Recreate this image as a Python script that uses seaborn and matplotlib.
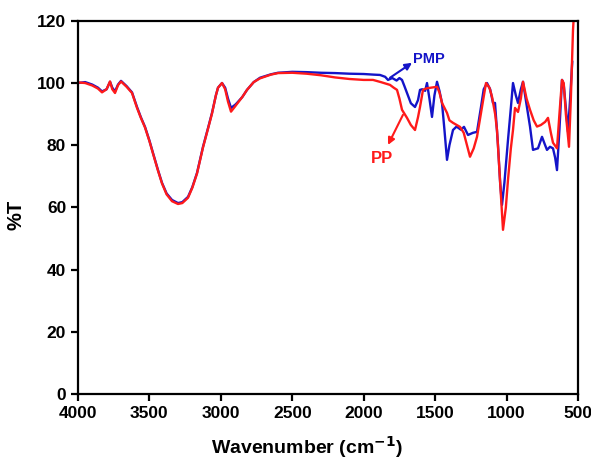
import matplotlib
matplotlib.use('Agg')
import matplotlib.pyplot as plt
import numpy as np
import pandas as pd
import seaborn as sns

# PMP spectrum (wavenumber, %T)
pmp_wn = [4000, 3950, 3900, 3860, 3832, 3800, 3776, 3760, 3741, 3720, 3699, 3660, 3622,
          3587, 3560, 3531, 3500, 3475, 3440, 3412, 3380, 3342, 3300, 3270, 3230, 3200,
          3167, 3125, 3090, 3062, 3035, 3020, 2992, 2970, 2950, 2929, 2900, 2887, 2850,
          2817, 2770, 2726, 2650, 2600, 2500, 2400, 2300, 2200, 2100, 2000, 1930, 1886,
          1850, 1830, 1800, 1770, 1750, 1732, 1715, 1697, 1670, 1641, 1620, 1606, 1590,
          1570, 1557, 1540, 1522, 1505, 1487, 1470, 1452, 1435, 1417, 1400, 1375, 1350,
          1320, 1298, 1270, 1235, 1207, 1180, 1160, 1137, 1115, 1095, 1081, 1060, 1045,
          1032, 1015, 990, 970, 955, 935, 920, 900, 885, 860, 836, 815, 795, 780, 752,
          730, 717, 696, 675, 660, 647, 630, 612, 600, 585, 570, 555, 540]
pmp_t = [100.0, 100.3, 99.5, 98.5, 97.3, 98.0, 100.4, 98.5, 97.3, 99.5, 100.7, 99.0, 97.0,
         92.3, 89.0, 85.9, 81.5, 77.5, 72.0, 67.9, 64.5, 62.4, 61.4, 61.7, 63.4, 66.5,
         71.1, 79.5, 85.5, 90.4, 96.0, 98.5, 100.0, 98.5, 95.0, 92.0, 93.0, 93.6, 95.5,
         97.8, 100.3, 101.7, 102.8, 103.3, 103.6, 103.5, 103.3, 103.2, 103.0, 102.9, 102.7, 102.6,
         102.0, 101.0, 101.6, 100.8, 101.6, 101.0, 99.0, 96.8, 93.5, 92.3, 94.5, 97.8, 98.0,
         97.5, 100.0, 95.0, 89.1, 96.0, 100.4, 97.5, 93.6, 85.0, 75.3, 80.0, 84.9, 86.0,
         85.0, 85.9, 83.3, 84.0, 84.3, 92.0, 98.0, 100.0, 98.0, 93.6, 93.6, 80.0, 68.0,
         60.8, 68.0, 81.7, 92.0, 100.0, 96.0, 93.6, 98.0, 100.4, 93.0, 86.0, 78.5, 78.8, 79.0, 82.7,
         80.0, 78.5, 79.5, 79.0, 76.0, 72.0, 85.0, 101.0, 99.5, 92.0, 84.3, 95.0, 107.0]

# PP spectrum (wavenumber, %T)
pp_wn = [4000, 3950, 3900, 3860, 3832, 3800, 3776, 3760, 3741, 3720, 3699, 3660, 3622,
         3587, 3560, 3531, 3500, 3475, 3440, 3412, 3380, 3342, 3300, 3270, 3230, 3200,
         3167, 3125, 3090, 3062, 3035, 3020, 2992, 2970, 2950, 2929, 2900, 2887, 2850,
         2817, 2770, 2726, 2650, 2600, 2500, 2400, 2300, 2200, 2100, 2000, 1935, 1880,
         1816, 1790, 1767, 1750, 1732, 1697, 1670, 1641, 1620, 1606, 1585, 1560, 1530,
         1487, 1470, 1452, 1417, 1400, 1375, 1326, 1300, 1256, 1230, 1207, 1172, 1144,
         1120, 1102, 1080, 1067, 1045, 1025, 1005, 990, 970, 955, 941, 920, 900, 885,
         860, 836, 810, 787, 760, 730, 710, 690, 675, 647, 630, 612, 600, 585, 563,
         550, 535, 525]
pp_t = [100.2, 100.0, 99.2, 98.2, 97.0, 98.0, 100.5, 98.0, 96.8, 99.3, 100.5, 98.8, 96.8,
        92.0, 88.8, 85.7, 81.3, 77.3, 71.8, 67.7, 64.2, 62.0, 61.1, 61.4, 63.1, 66.3,
        70.9, 79.3, 85.3, 90.2, 96.0, 98.5, 100.0, 98.0, 94.0, 90.8, 92.5, 93.3, 95.5,
        97.8, 100.3, 101.5, 102.7, 103.2, 103.3, 103.0, 102.5, 101.8, 101.3, 101.0, 101.0, 100.3,
        99.4, 98.5, 97.8, 95.0, 91.4, 88.8, 86.5, 84.9, 89.0, 92.3, 97.8, 98.3, 98.5,
        98.8, 97.0, 93.6, 90.4, 88.0, 87.2, 85.9, 84.0, 76.3, 79.0, 82.7, 92.3, 100.0,
        98.5, 95.6, 90.0, 84.9, 68.0, 52.8, 60.0, 68.9, 79.0, 84.9, 92.0, 90.7, 95.0, 100.4,
        95.0, 91.4, 88.0, 86.0, 86.5, 87.5, 88.8, 84.0, 80.8, 79.0, 90.0, 101.0, 100.0, 90.0, 79.5,
        95.0, 117.0, 125.0]

x_ticks = [4000, 3500, 3000, 2500, 2000, 1500, 1000, 500]
y_ticks = [0, 20, 40, 60, 80, 100, 120]

pmp = pd.DataFrame({'wn': pmp_wn, 'T': pmp_t})
pp = pd.DataFrame({'wn': pp_wn, 'T': pp_t})

sns.set_style('ticks')
plt.rcParams['font.family'] = ['Liberation Sans', 'DejaVu Sans']
plt.rcParams['font.weight'] = 'bold'
plt.rcParams['text.color'] = 'black'
plt.rcParams['axes.labelcolor'] = 'black'
plt.rcParams['axes.linewidth'] = 1.6
plt.rcParams['xtick.major.width'] = 1.6
plt.rcParams['ytick.major.width'] = 1.6
plt.rcParams['xtick.major.size'] = 5
plt.rcParams['ytick.major.size'] = 5
plt.rcParams['axes.edgecolor'] = 'black'

blue = '#1414c8'
red = '#ff1a1a'

fig = plt.figure(figsize=(5.91, 4.63), dpi=100)
ax = fig.add_axes([0.132, 0.149, 0.846, 0.806])

sns.lineplot(pmp, x='wn', y='T', color=blue, linewidth=1.7, ax=ax, estimator=None)
sns.lineplot(pp, x='wn', y='T', color=red, linewidth=1.7, ax=ax, estimator=None)

ax.set_xlim(4000, 500)
ax.set_ylim(0, 120)
ax.set_xticks(x_ticks)
ax.set_yticks(y_ticks)
ax.tick_params(labelsize=12.5, colors='black')
for lab in ax.get_xticklabels() + ax.get_yticklabels():
    lab.set_fontweight('bold')

ax.set_xlabel('Wavenumber (cm$^{\\mathbf{-1}}$)', fontsize=14, fontweight='bold', color='black')
ax.xaxis.set_label_coords(0.457, -0.108)
ax.set_ylabel('%T', fontsize=14.5, fontweight='bold', color='black')
ax.yaxis.set_label_coords(-0.106, 0.48)

# annotations: arrows leave the curve and point at the labels
ax.annotate('', xy=(1662, 106.5), xytext=(1816, 101.7),
            arrowprops=dict(arrowstyle='-|>', color=blue, lw=1.5, mutation_scale=10,
                            shrinkA=0, shrinkB=0))
ax.text(1655, 107.8, 'PMP', color=blue, fontsize=10.5, fontweight='bold',
        va='center', ha='left')
ax.annotate('', xy=(1830, 80.1), xytext=(1725, 89.8),
            arrowprops=dict(arrowstyle='-|>', color=red, lw=1.5, mutation_scale=10,
                            shrinkA=0, shrinkB=0))
ax.text(1872, 75.6, 'PP', color=red, fontsize=12, fontweight='bold',
        va='center', ha='center')

plt.savefig('out.png', dpi=100)
